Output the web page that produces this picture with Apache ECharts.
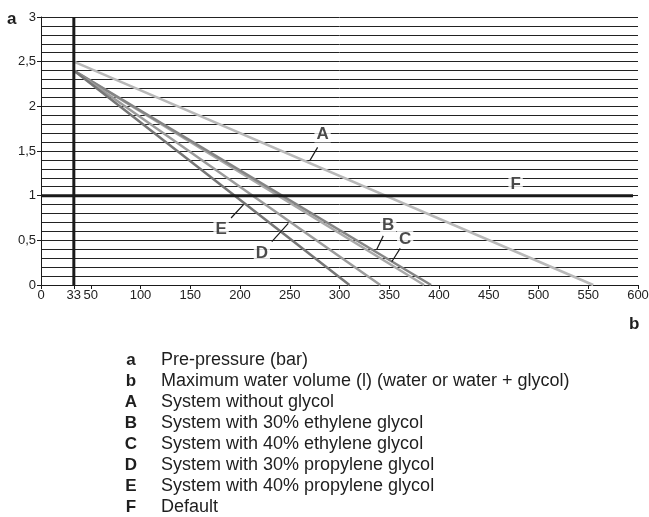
<!DOCTYPE html>
<html>
<head>
<meta charset="utf-8">
<script src="https://cdn.jsdelivr.net/npm/echarts@6/dist/echarts.min.js"></script>
<style>
  html, body { margin: 0; padding: 0; background: #fff; }
  #main { width: 649px; height: 517px; }
</style>
</head>
<body>
<div id="main"></div>
<script>
// 曲线数据：起点体积 33 l，终点压力 0
var startVolume = 33
var curveNames = ['A', 'B', 'C', 'D', 'E']
var curveStartPressure = [2.5, 2.4, 2.4, 2.4, 2.4]
var curveMaxVolume = [555, 385, 392, 341, 310]
var curveColors = ['#b9b9b9', '#a9a9a9', '#858585', '#9c9c9c', '#767676']

// 默认值 F
var defaultPressure = 1
var defaultEndVolume = 595

// 刻度
var xTickValues = [0, 33, 50, 100, 150, 200, 250, 300, 350, 400, 450, 500, 550, 600]

// 标注字母（数据坐标）
var noteLetters = ['A', 'B', 'C', 'D', 'E', 'F']
var notePos = [[283, 1.69], [349, 0.67], [366, 0.51], [222, 0.35], [181, 0.62], [477, 1.13]]
var leaderFrom = [[278, 1.54], [344, 0.55], [361, 0.41], [232, 0.485], [191, 0.75], null]
var leaderTo = [[270, 1.39], [337.5, 0.40], [352.5, 0.26], [248.5, 0.69], [203.5, 0.9], null]

// 图例说明
var legendKeys = ['a', 'b', 'A', 'B', 'C', 'D', 'E', 'F']
var legendTexts = [
  'Pre-pressure (bar)',
  'Maximum water volume (l) (water or water + glycol)',
  'System without glycol',
  'System with 30% ethylene glycol',
  'System with 40% ethylene glycol',
  'System with 30% propylene glycol',
  'System with 40% propylene glycol',
  'Default'
]

var font = 'Liberation Sans, Arial, Helvetica, sans-serif'
var chart = echarts.init(document.getElementById('main'))

var series = []

curveNames.forEach(function (name, i) {
  series.push({
    name: name,
    type: 'line',
    symbol: 'none',
    silent: true,
    lineStyle: { color: curveColors[i], width: 2.5 },
    data: [[startVolume, curveStartPressure[i]], [curveMaxVolume[i], 0]],
    z: 3
  })
})

// F 默认线
series.push({
  name: 'F',
  type: 'line',
  symbol: 'none',
  silent: true,
  lineStyle: { color: '#1a1a1a', width: 3 },
  data: [[0, defaultPressure], [defaultEndVolume, defaultPressure]],
  z: 4
})

// 33 l 竖线
series.push({
  type: 'line',
  symbol: 'none',
  silent: true,
  lineStyle: { color: '#1a1a1a', width: 3 },
  data: [[startVolume, 0], [startVolume, 3]],
  z: 4
})

// 引线
noteLetters.forEach(function (l, i) {
  if (!leaderFrom[i]) return
  series.push({
    type: 'line',
    symbol: 'none',
    silent: true,
    lineStyle: { color: '#1a1a1a', width: 1.2 },
    data: [leaderFrom[i], leaderTo[i]],
    z: 5
  })
})

// 标注字母
series.push({
  type: 'scatter',
  symbolSize: 1,
  silent: true,
  itemStyle: { color: 'rgba(0,0,0,0)' },
  label: {
    show: true,
    position: 'inside',
    formatter: function (p) { return noteLetters[p.dataIndex] },
    fontFamily: font,
    fontSize: 17,
    fontWeight: 'bold',
    color: '#1e1e1e',
    backgroundColor: '#fff',
    padding: [0, 2]
  },
  data: notePos,
  z: 6
})

var graphics = [
  { type: 'text', left: 7, top: 11, style: { text: 'a', font: 'bold 17px ' + font, fill: '#1e1e1e' } },
  { type: 'text', left: 629, top: 316, style: { text: 'b', font: 'bold 17px ' + font, fill: '#1e1e1e' } }
]
legendKeys.forEach(function (k, i) {
  var y = 360 + i * 21
  graphics.push({
    type: 'text', x: 131, y: y,
    style: { text: k, font: 'bold 17px ' + font, fill: '#1e1e1e', align: 'center', verticalAlign: 'middle' }
  })
  graphics.push({
    type: 'text', x: 161, y: y,
    style: { text: legendTexts[i], font: '18px ' + font, fill: '#1e1e1e', align: 'left', verticalAlign: 'middle' }
  })
})

chart.setOption({
  animation: false,
  backgroundColor: '#fff',
  grid: { left: 41, right: 11, top: 17, bottom: 232, outerBoundsMode: 'none', containLabel: false },
  xAxis: {
    type: 'value',
    min: 0,
    max: 600,
    axisLine: { show: true, lineStyle: { color: '#1a1a1a', width: 1 } },
    axisTick: { show: true, length: 4, customValues: xTickValues, lineStyle: { color: '#1a1a1a' } },
    axisLabel: { customValues: xTickValues, margin: 4, fontFamily: font, fontSize: 13, color: '#222' },
    splitLine: { show: false }
  },
  yAxis: {
    type: 'value',
    min: 0,
    max: 3,
    interval: 0.5,
    axisLine: { show: true, lineStyle: { color: '#1a1a1a', width: 1 } },
    axisTick: { show: true, length: 4, lineStyle: { color: '#1a1a1a' } },
    axisLabel: {
      margin: 5,
      fontFamily: font,
      fontSize: 13,
      color: '#222',
      formatter: function (v) { return String(v).replace('.', ',') }
    },
    splitLine: { show: true, lineStyle: { color: '#222', width: 1 } },
    minorTick: { show: false, splitNumber: 5 },
    minorSplitLine: { show: true, lineStyle: { color: '#222', width: 1 } }
  },
  graphic: graphics,
  series: series
})
</script>
</body>
</html>
